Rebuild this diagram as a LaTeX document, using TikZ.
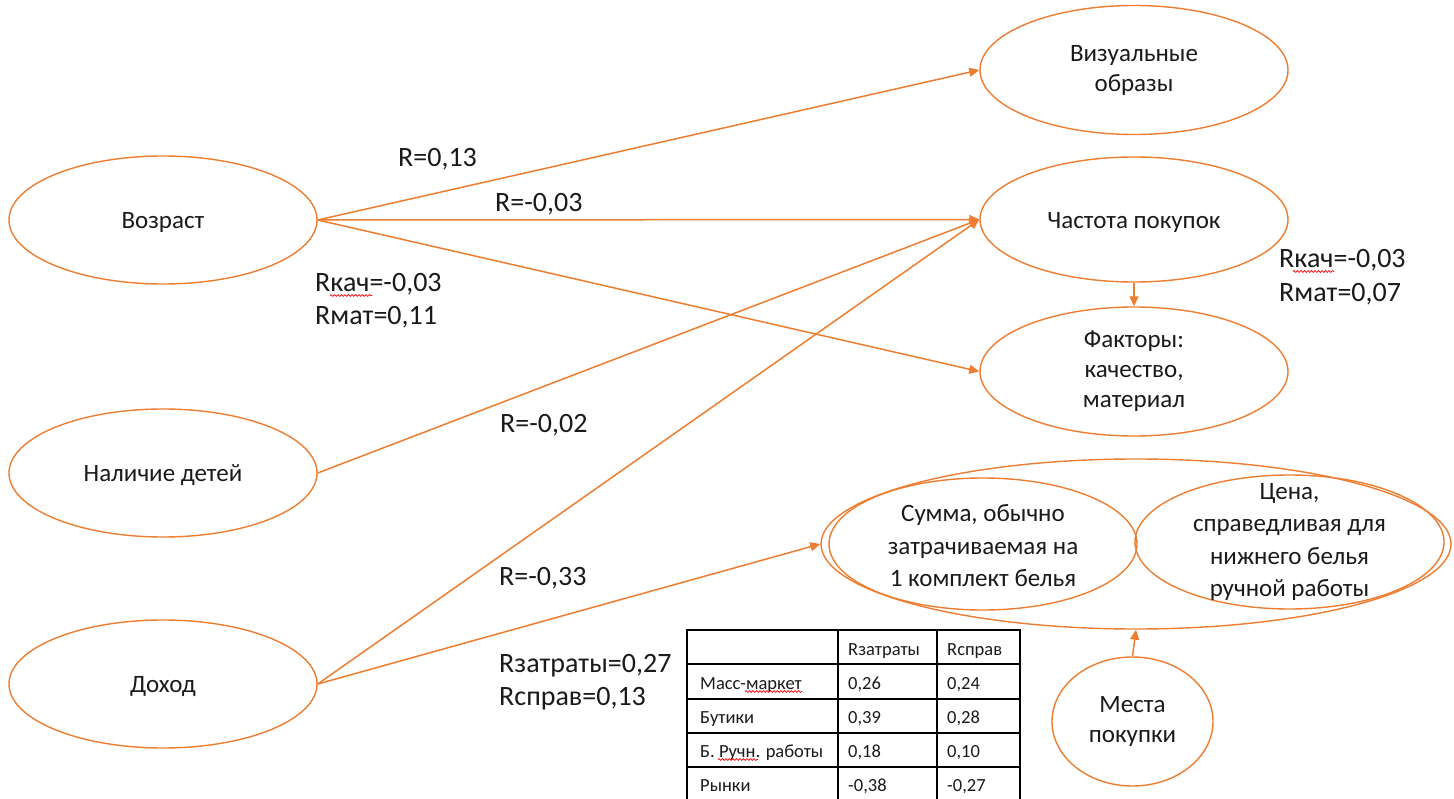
\documentclass[tikz,border=0pt]{standalone}
\usepackage{fontspec}
\setmainfont{Carlito}
\usetikzlibrary{arrows.meta,shapes.geometric,decorations.pathmorphing}
\definecolor{org}{HTML}{ED7D31}
\definecolor{ink}{HTML}{1A1A1A}
\begin{document}
\begin{tikzpicture}[x=1pt,y=-1pt,
  ell/.style={ellipse, draw=org, line width=1.4pt, inner sep=0pt, minimum width=308pt, minimum height=128pt},
  etext/.style={font=\fontsize{25}{30}\selectfont, align=center, text=ink, inner sep=0pt},
  gtext/.style={font=\fontsize{25}{32.5}\selectfont, align=center, text=ink, inner sep=0pt},
  lbl/.style={font=\fontsize{28}{33}\selectfont, anchor=base west, inner sep=0pt, text=ink},
  tbl/.style={font=\fontsize{18.5}{22}\selectfont, anchor=base west, inner sep=0pt, text=ink},
  conn/.style={draw=org, line width=1.5pt, -{Triangle[length=10pt,width=9pt]}},
  grid/.style={draw=black, line width=1.3pt},
  spell/.style={draw=red, line width=0.7pt, decorate, decoration={snake, amplitude=0.9pt, segment length=3.5pt}}
]
\useasboundingbox (0,0) rectangle (1454,799);

% ellipses
\node[ell] (voz) at (163,220) {};
\node[etext] at ([yshift=-2.5pt]voz.center) {Возраст};
\node[ell] (det) at (163,473) {};
\node[etext] at ([yshift=-2.5pt]det.center) {Наличие детей};
\node[ell] (doh) at (163,684) {};
\node[etext] at ([yshift=-2.5pt]doh.center) {Доход};
\node[ell, minimum height=129pt] (viz) at (1134,70) {};
\node[etext] at (viz) {Визуальные\\образы};
\node[ell, minimum height=125pt] (chast) at (1134,219.5) {};
\node[etext] at ([yshift=-2.5pt]chast.center) {Частота покупок};
\node[ell, minimum height=129pt] (fact) at (1134,371.5) {};
\node[etext] at (fact) {Факторы:\\качество,\\материал};
\node[ell, minimum width=630pt, minimum height=170pt] (grp) at (1136,544) {};
\node[ell, minimum width=308pt, minimum height=132pt] (summa) at (983,544) {};
\node[gtext] at ([yshift=-2pt]summa.center) {Сумма, обычно\\затрачиваемая на\\1 комплект белья};
\node[ell, minimum width=309pt, minimum height=134pt] (cena) at (1289.5,542) {};
\node[gtext] at (cena) {Цена,\\справедливая для\\нижнего белья\\ручной работы};
\node[ell, minimum width=161pt, minimum height=129pt] (mesta) at (1132.5,721.5) {};
\node[etext] at (mesta) {Места\\покупки};

% connectors
\draw[conn] (voz.east) -- (viz.west);
\draw[conn] (voz.east) -- (chast.west);
\draw[conn] (voz.east) -- (fact.west);
\draw[conn] (det.east) -- (chast.west);
\draw[conn] (doh.east) -- (chast.west);
\draw[conn] (doh.east) -- (grp.west);
\draw[conn] (chast.south) -- (fact.north);
\draw[conn] (mesta.north) -- (grp.south);

% labels
\node[lbl] (l1) at (398,167) {R=0,13};
\node[lbl] (l2) at (495,212) {R=-0,03};
\node[lbl] (l3a) at (315,292) {Rкач=-0,03};
\node[lbl] (l3b) at (315,325) {Rмат=0,11};
\node[lbl] (l4a) at (1279,268) {Rкач=-0,03};
\node[lbl] (l4b) at (1279,302) {Rмат=0,07};
\node[lbl] (l5) at (500,432) {R=-0,02};
\node[lbl] (l6) at (499,585) {R=-0,33};
\node[lbl] (l7a) at (499,672) {Rзатраты=0,27};
\node[lbl] (l7b) at (499,705) {Rсправ=0,13};

% table
\foreach \yy in {630,664,699,733,767} \draw[grid] (687,\yy) -- (1020,\yy);
\foreach \xx in {687,838,937,1020} \draw[grid] (\xx,629.35) -- (\xx,805);
\node[tbl] (h2) at (848,655) {Rзатраты};
\node[tbl] (h3) at (947,655) {Rсправ};
\node[tbl] (r1) at (700,689) {Масс-маркет};
\node[tbl] (r1a) at (848,689) {0,26};
\node[tbl] (r1b) at (947,689) {0,24};
\node[tbl] (r2) at (700,723) {Бутики};
\node[tbl] (r2a) at (848,723) {0,39};
\node[tbl] (r2b) at (947,723) {0,28};
\node[tbl] (r3) at (700,757) {Б. Ручн. работы};
\node[tbl] (r3a) at (848,757) {0,18};
\node[tbl] (r3b) at (947,757) {0,10};
\node[tbl] (r4) at (700,791) {Рынки};
\node[tbl] (r4a) at (848,791) {-0,38};
\node[tbl] (r4b) at (947,791) {-0,27};

% spell-check marks
\draw[spell] (330,295.5) -- (372,295.5);
\draw[spell] (1293,271.5) -- (1334,271.5);
\draw[spell] (745,691.5) -- (802,691.5);
\draw[spell] (718,759.5) -- (758,759.5);
\end{tikzpicture}
\end{document}
